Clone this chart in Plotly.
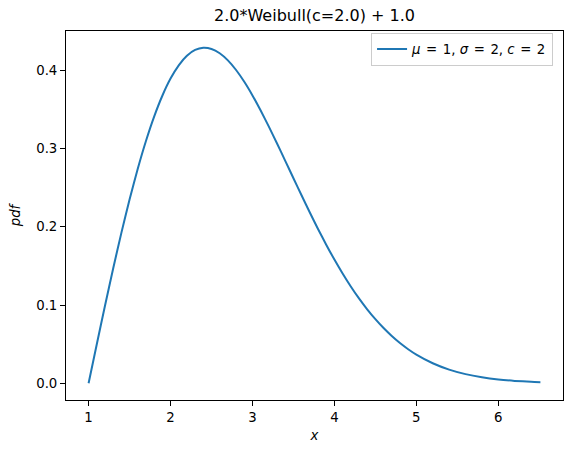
import plotly.graph_objects as go

# values
x_vals = [1.0, 1.1, 1.2, 1.3, 1.4, 1.5, 1.6, 1.7, 1.8, 1.9, 2.0, 2.1, 2.2, 2.3, 2.4,
          2.5, 2.6, 2.7, 2.8, 2.9, 3.0, 3.1, 3.2, 3.3, 3.4, 3.5, 3.6, 3.7, 3.8, 3.9,
          4.0, 4.1, 4.2, 4.3, 4.4, 4.5, 4.6, 4.7, 4.8, 4.9, 5.0, 5.2, 5.4, 5.6, 5.8,
          6.0, 6.2, 6.4, 6.514]
pdf_vals = [0.0, 0.0499, 0.099, 0.1467, 0.1922, 0.2349, 0.2742, 0.3097, 0.3409, 0.3675,
            0.3894, 0.4064, 0.4186, 0.426, 0.4288, 0.4273, 0.4218, 0.4127, 0.4004, 0.3853,
            0.3679, 0.3486, 0.328, 0.3064, 0.2843, 0.262, 0.2399, 0.2182, 0.1972, 0.1771,
            0.1581, 0.1403, 0.1237, 0.1084, 0.0945, 0.0819, 0.0705, 0.0604, 0.0514, 0.0435,
            0.0366, 0.0255, 0.0174, 0.0116, 0.0076, 0.0048, 0.003, 0.0018, 0.0014]

x_ticks = [1, 2, 3, 4, 5, 6]
y_ticks = [0.0, 0.1, 0.2, 0.3, 0.4]
title_text = "2.0*Weibull(c=2.0) + 1.0"
sp = " \u200a"
legend_label = (f"<i>μ</i>{sp}={sp}1, <i>σ</i>{sp}={sp}2, <i>c</i>{sp}={sp}2")

font = "DejaVu Sans"

fig = go.Figure()
fig.add_trace(go.Scatter(
    x=x_vals, y=pdf_vals, mode="lines", name=legend_label,
    line=dict(color="#1f77b4", width=2, shape="spline", smoothing=0.6),
))

xmin, xmax = min(x_vals), max(x_vals)
ymin, ymax = min(pdf_vals), max(pdf_vals)
xpad = (xmax - xmin) * 0.05
ypad = (ymax - ymin) * 0.05

axis_common = dict(
    showline=True, linecolor="black", linewidth=1, mirror=True,
    ticks="outside", ticklen=5, tickwidth=1, tickcolor="black",
    showgrid=False, zeroline=False, automargin=False,
    tickfont=dict(family=font, size=13.3, color="black"),
)

fig.update_layout(
    width=571, height=453,
    margin=dict(l=66, r=8, t=31, b=53),
    paper_bgcolor="white", plot_bgcolor="white",
    font=dict(family=font, color="black"),
    title=dict(text=title_text, x=0.5, xanchor="center", y=1 - 15/453, yanchor="middle",
               xref="paper", font=dict(family=font, size=16, color="black")),
    xaxis=dict(range=[xmin - xpad, xmax + xpad], tickvals=x_ticks,
               ticktext=[str(t) for t in x_ticks],
               title=dict(text="<i>x</i>", font=dict(family=font, size=13.3), standoff=6),
               **axis_common),
    yaxis=dict(range=[ymin - ypad, ymax + ypad], tickvals=y_ticks,
               ticktext=[f"{t:.1f}" for t in y_ticks],
               title=dict(text="<i>pdf</i>", font=dict(family=font, size=13.3), standoff=12),
               **axis_common),
    showlegend=True,
    legend=dict(x=0.98, y=0.995, xanchor="right", yanchor="top",
                bordercolor="#cccccc", borderwidth=1, bgcolor="rgba(255,255,255,0.8)",
                font=dict(family=font, size=13.3, color="black")),
)

fig.write_html("out.html", config={"displayModeBar": False},
               post_script="document.body.style.margin='0';document.body.style.padding='0';")
